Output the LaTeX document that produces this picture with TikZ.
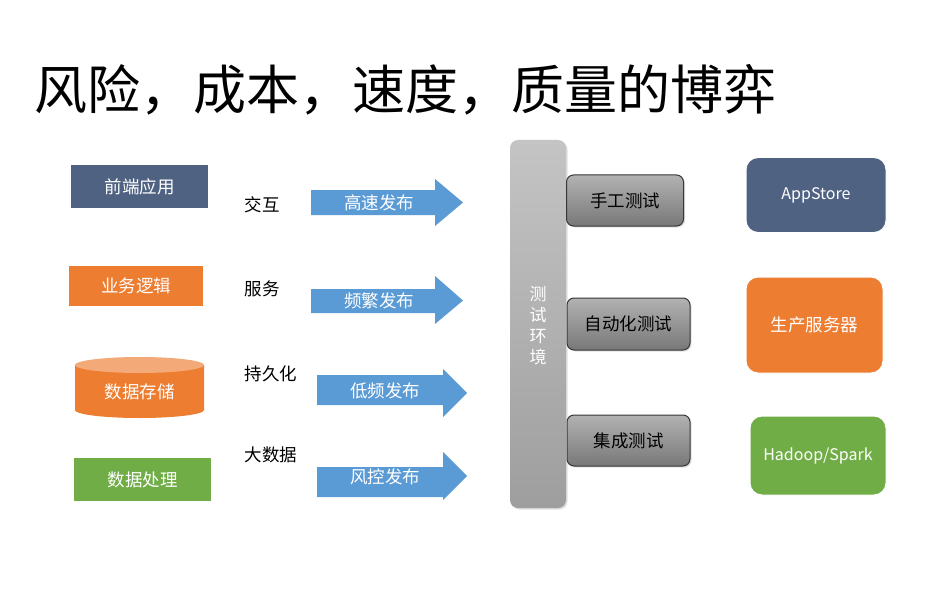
\documentclass[tikz,border=0pt]{standalone}
\usepackage{fontspec}
\newfontfamily\cjk{Noto Sans CJK SC}
\usetikzlibrary{shadows}
\definecolor{navy}{RGB}{79,98,130}
\definecolor{orng}{RGB}{237,125,49}
\definecolor{orngtop}{RGB}{243,170,120}
\definecolor{grn}{RGB}{112,173,71}
\definecolor{arrowblue}{RGB}{91,155,213}
\definecolor{bartop}{RGB}{196,196,196}
\definecolor{barbot}{RGB}{158,158,158}
\definecolor{tbtop}{RGB}{178,178,178}
\definecolor{tbbot}{RGB}{120,120,120}
\definecolor{tbline}{RGB}{55,55,55}
\begin{document}
\begin{tikzpicture}[x=1pt,y=-1pt,
  every node/.style={font=\cjk\fontsize{17.5}{20}\selectfont, inner sep=0pt},
  wtext/.style={text=white},
  arr/.style={fill=arrowblue},
  testbox/.style={draw=tbline, line width=1pt, rounded corners=7pt, top color=tbtop, bottom color=tbbot, drop shadow={shadow xshift=1.5pt, shadow yshift=-1.5pt, opacity=0.25}},
  target/.style={rounded corners=12pt, draw=white, line width=1pt, text=white}
]
\useasboundingbox (0,0) rectangle (940,591);
\fill[white] (0,0) rectangle (940,591);

% title
\node[anchor=west, font=\cjk\fontsize{53}{60}\selectfont] (title) at (34,90) {风险，成本，速度，质量的博弈};

% left boxes
\fill[navy] (71,165) rectangle (208,208);
\node[wtext] (fe) at (139.5,186.5) {前端应用};
\fill[orng] (69,266) rectangle (203,306);
\node[wtext] (biz) at (136,286) {业务逻辑};
% cylinder
\fill[orng] (75,365) -- (75,410) arc[start angle=180, end angle=360, x radius=64.5, y radius=-8] -- (204,365) -- cycle;
\fill[orngtop] (139.5,365) ellipse[x radius=64.5, y radius=8];
\node[wtext] (store) at (139.5,392) {数据存储};
\fill[grn] (74,458) rectangle (211,501);
\node[wtext] (proc) at (142.5,479.5) {数据处理};

% middle labels
\node (l1) at (262,205) {交互};
\node (l2) at (262,289) {服务};
\node (l3) at (271,374) {持久化};
\node (l4) at (271,455) {大数据};

% arrows
\fill[arr] (311,190) -- (435,190) -- (435,179) -- (463,202.5) -- (435,226) -- (435,215) -- (311,215) -- cycle;
\node[wtext] (a1) at (379,202.5) {高速发布};
\fill[arr] (311,289) -- (435,289) -- (435,276) -- (463,300.5) -- (435,324) -- (435,313) -- (311,313) -- cycle;
\node[wtext] (a2) at (379,301) {频繁发布};
\fill[arr] (317,375) -- (443,375) -- (443,369) -- (467,393) -- (443,417) -- (443,405) -- (317,405) -- cycle;
\node[wtext] (a3) at (385,391) {低频发布};
\fill[arr] (317,467) -- (443,467) -- (443,452) -- (467,476) -- (443,500) -- (443,497) -- (317,497) -- cycle;
\node[wtext] (a4) at (385,477) {风控发布};

% test environment bar
\shade[rounded corners=8pt, top color=bartop, bottom color=barbot, drop shadow={shadow xshift=1.5pt, shadow yshift=-1.5pt, opacity=0.25}] (510,140) rectangle (566,508);
\node[wtext, align=center, font=\cjk\fontsize{17}{21}\selectfont] (env) at (538,326) {测\\试\\环\\境};

% test boxes
\node[testbox, minimum width=117pt, minimum height=51pt] (t1) at (625,200.5) {手工测试};
\node[testbox, minimum width=123pt, minimum height=52pt] (t2) at (628.5,324) {自动化测试};
\node[testbox, minimum width=123pt, minimum height=51pt] (t3) at (628.5,440.5) {集成测试};

% targets
\node[target, fill=navy, minimum width=140pt, minimum height=75pt, font=\cjk\fontsize{16}{19}\selectfont] (app) at (816,195) {AppStore};
\node[target, fill=orng, minimum width=137pt, minimum height=96pt] (srv) at (814.5,325) {生产服务器};
\node[target, fill=grn, minimum width=136pt, minimum height=79pt, font=\cjk\fontsize{16}{19}\selectfont] (hdp) at (818,455.5) {Hadoop/Spark};
\end{tikzpicture}
\end{document}
